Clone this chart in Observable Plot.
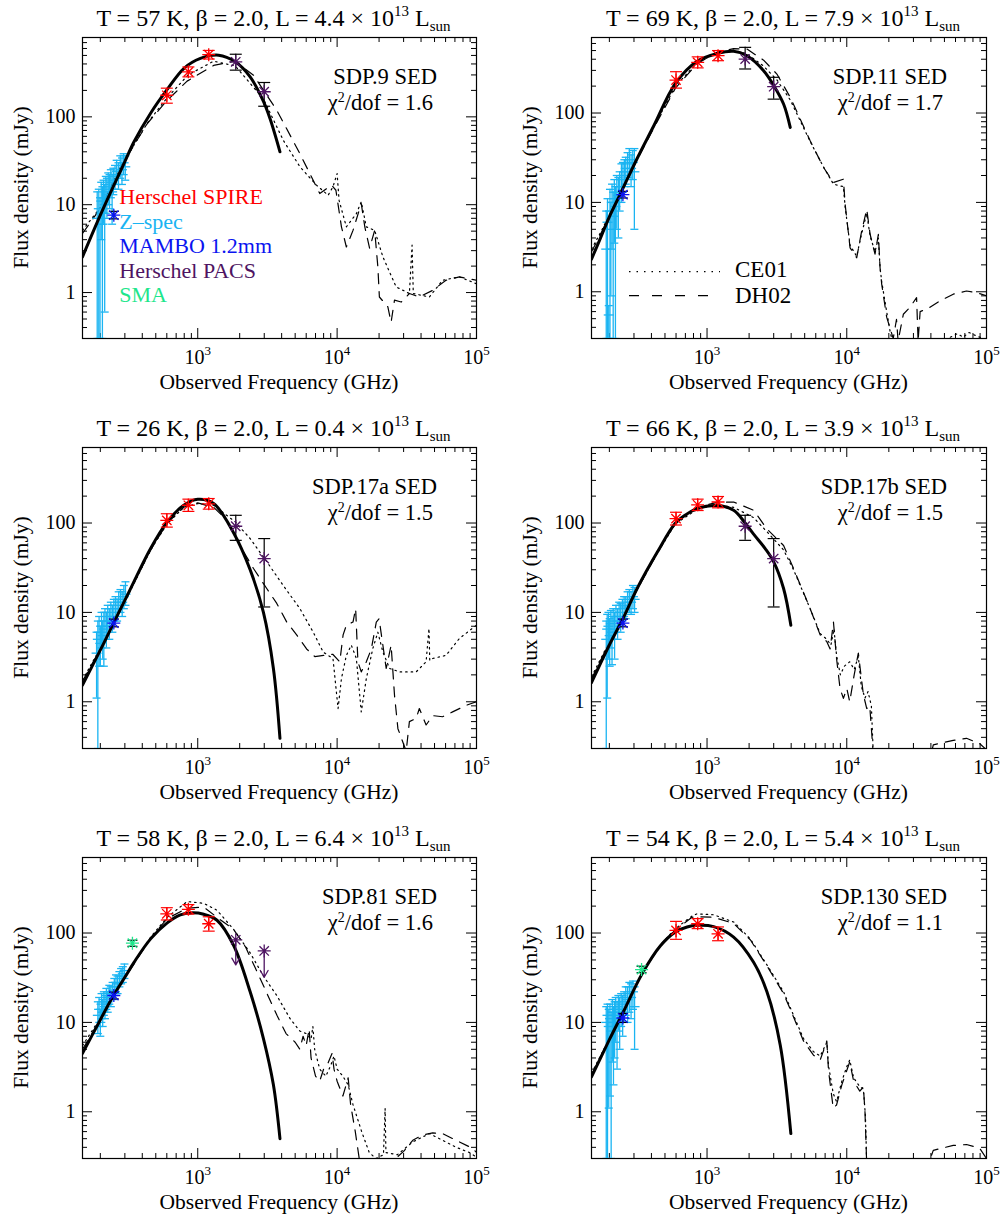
<!DOCTYPE html>
<html><head><meta charset="utf-8">
<script src="https://cdn.jsdelivr.net/npm/d3@7"></script>
<script src="https://cdn.jsdelivr.net/npm/@observablehq/plot@0.6"></script>
<style>
html,body{margin:0;padding:0;background:#fff;}
body{width:1003px;height:1215px;position:relative;overflow:hidden;font-family:"Liberation Serif","Times New Roman",serif;}
.panel{position:absolute;}
#overlay{position:absolute;left:0;top:0;pointer-events:none;}
</style></head><body>
<script>
// ---------------- colours ----------------
const RED = "#FF0000", CYAN = "#1AB4F2", BLUE = "#0A14F0", PURPLE = "#4E1462", GREEN = "#1EE68C";

// ---------------- tick values ----------------
const majorX = [1e3, 1e4, 1e5];
const minorX = [200,300,400,500,600,700,800,900,2000,3000,4000,5000,6000,7000,8000,9000,20000,30000,40000,50000,60000,70000,80000,90000];
const majorY = [1, 10, 100];
const minorY = [0.4,0.5,0.6,0.7,0.8,0.9,2,3,4,5,6,7,8,9,20,30,40,50,60,70,80,90,200,300,400,500,600,700];

// ---------------- panel labels ----------------
const panelNames = ["SDP.9","SDP.11","SDP.17a","SDP.17b","SDP.81","SDP.130"];
const panelT = [57, 69, 26, 66, 58, 54];
const panelL = ["4.4","7.9","0.4","3.9","6.4","5.4"];
const panelChi = ["1.6","1.7","1.5","1.5","1.6","1.1"];
const panelYmax = [800, 700, 700, 700, 700, 700];

// ---------------- SDP.9 ----------------
const sdp9_fit = [[149,2.55],[200,7.6],[250,16.6],[300,31],[349,52],[459,110],[604,205],[794,355],[1045,462],[1412,503],[1858,423],[2377,285],[2960,150],[3304,95],[3890,40]];
const sdp9_ce01 = [[149,5.1],[202,9.5],[280,27],[435,85],[594,160],[853,300],[1300,430],[1858,380],[2960,160],[4110,54],[5410,27],[7110,16.7],[8620,12.8],[9340,16],[10000,22.6],[10330,11.2],[11650,5.6],[13740,7.9],[14900,10.8],[16200,5.6],[18600,5.1],[21300,2.55],[26500,1.16],[33000,0.975],[34500,3.46],[35200,0.975],[45900,0.89],[57100,1.38],[75300,1.51],[100000,1.26]];
const sdp9_dh02 = [[149,4.7],[202,9.3],[280,27],[435,84],[594,150],[839,255],[1300,385],[1858,430],[2512,298],[3690,119],[5410,38],[7510,13.4],[9120,16.7],[9800,14.6],[10740,5.6],[11650,3.3],[13000,5.1],[14900,10.3],[15800,5.6],[17100,3.2],[18600,5.1],[19600,1.96],[20100,0.89],[23100,0.69],[24400,0.46],[25800,0.82],[28800,0.78],[33000,0.975],[38900,0.89],[48500,1.06],[60400,1.38],[75300,1.51],[100000,1.38]];
const sdp9_zspec = [[190,7,0.3,14],[195,9,0.3,15],[199,6,0.3,12],[203,11,4,18],[207,8,0.3,16],[211,12,6,19],[215,10,0.6,17],[219,14,8,21],[223,13,7,20],[228,16,10,23],[233,15,9,22],[238,18,12,25],[243,14,6,22],[248,19,13,26],[255,21,15,28],[262,24,17,32],[270,22,15,30],[278,28,20,36],[286,25,17,34],[294,30,22,38],[302,27,19,36]];
const sdp9_spire = [[600,176,143,212],[857,325,285,370],[1199,510,455,570]];
const sdp9_pacs = [[1874,423,340,516],[2998,193,132,246]];
const sdp9_mambo = [[250,7.6,6.9,8.4]];

// ---------------- SDP.11 ----------------
const sdp11_fit = [[149,2.32],[173,4.0],[200,6.9],[240,12.5],[316,31],[416,72],[594,215],[849,380],[1179,462],[1550,490],[1930,438],[2540,298],[2993,205],[3530,126],[3940,69]];
const sdp11_ce01 = [[149,3.0],[173,4.6],[240,12.8],[316,31],[416,70],[594,200],[849,365],[1179,470],[1550,505],[1930,460],[2540,335],[3162,235],[3940,140],[5470,48],[6810,25],[8030,16],[9460,15],[9730,9],[10560,3.3],[11780,2.5],[12790,4.5],[13900,7.5],[14690,4.2],[15930,2.8],[16830,4.0],[17300,1.9],[17780,1.3],[19300,0.6],[20500,0.35],[21500,0.25],[48000,0.25],[55000,0.31],[62000,0.34],[68000,0.31],[75000,0.35],[85000,0.32],[100000,0.29]];
const sdp11_dh02 = [[149,2.8],[173,4.4],[240,12.6],[316,30],[416,68],[594,190],[849,355],[1179,480],[1550,525],[1930,520],[2540,390],[3162,273],[3940,150],[5470,49],[6810,24.7],[8030,16.7],[9460,18.2],[9730,9.6],[10560,3.1],[11780,2.4],[12790,4.8],[13900,8.4],[14690,4.4],[15930,2.64],[16830,4.4],[17300,1.87],[17780,1.22],[19300,0.52],[21500,0.3],[22700,0.49],[23300,0.28],[25400,0.56],[28300,0.67],[31600,0.86],[32400,0.28],[33500,0.6],[39400,0.67],[46400,0.79],[57800,0.94],[71900,1.02],[84800,0.98],[100000,0.9]];
const sdp11_zspec = [[190,3,0.3,8],[194,6,0.3,11],[198,0.55,0.3,0.7],[202,8,0.3,14],[205,5,0.9,10],[209,10,3,16],[213,7,0.3,13],[217,11,3.5,18],[221,9,0.3,15],[226,13,5,20],[232,12,4,19],[237,15,8,22],[244,18,10,27],[250,20,13,28],[256,22,15,30],[262,24,16,32],[270,27,19,36],[278,30,22,40],[286,24,15,34],[294,28,18,38],[302,22,5,40]];
const sdp11_spire = [[600,234,190,290],[857,369,320,425],[1199,438,385,500]];
const sdp11_pacs = [[1874,402,311,543],[2998,197,143,251]];
const sdp11_mambo = [[250,12.2,11.2,13.3]];

// ---------------- SDP.17a ----------------
const sdp17a_fit = [[149,1.54],[202,3.9],[251,7.8],[313,15.6],[459,52],[604,103],[794,158],[1000,184],[1300,165],[1807,78],[2377,30],[2960,10],[3490,2.36],[3890,0.39]];
const sdp17a_ce01 = [[149,1.75],[202,4.1],[251,7.7],[313,15],[459,50],[604,98],[794,150],[1000,165],[1300,158],[1858,103],[2377,67],[3126,37],[4110,20],[5410,11],[6740,6],[7940,3.6],[9340,3.05],[10160,0.84],[10740,1.82],[11650,3.3],[12640,4.3],[13740,3.05],[14900,0.77],[16200,1.82],[18000,3.9],[19600,6],[21300,3.6],[23800,2.36],[28000,2.16],[36900,2.16],[43500,2.8],[45600,6.6],[46200,2.9],[48500,3.05],[60400,3.3],[75300,5.1],[100000,7.2]];
const sdp17a_dh02 = [[149,1.7],[202,4.0],[251,7.7],[313,15.3],[459,50],[604,100],[794,150],[1000,168],[1300,150],[1600,110],[2020,55],[2512,31],[3126,18.5],[3690,12.6],[4350,7.8],[5125,5.6],[6040,3.9],[6920,3.2],[8000,3.3],[9300,3.4],[10450,2.8],[11040,5.6],[11650,7.2],[13000,7.8],[13580,11],[14100,2.8],[14900,2.16],[16200,2.8],[17600,3.9],[19100,7.8],[20000,8.5],[22500,2.36],[24400,4.3],[25800,1.19],[27300,0.5],[31300,0.28],[33000,0.6],[36900,0.65],[38900,0.84],[43500,0.55],[48500,0.7],[57100,0.68],[67400,0.77],[83900,0.91],[100000,1.0]];
const sdp17a_zspec = [[188,3.5,1.1,6],[192,5,0.3,8],[196,6,2.5,9],[200,4.5,2.5,7],[204,7,4,10],[208,5.5,3,8],[212,6.5,2.5,10],[216,8,5,11],[221,7,4,10],[226,9,6,12],[232,8,5,11],[238,10,7,13],[244,9,6,12],[250,11,8,14],[257,12,9,15],[264,11,8,14],[271,13,10,17],[279,14,10,18],[287,13,9,17],[295,15,11,20],[303,16,12,22]];
const sdp17a_spire = [[600,107,90,127],[857,158,135,185],[1199,164,143,188]];
const sdp17a_pacs = [[1874,92,64,122],[2998,40,11.5,67]];
const sdp17a_mambo = [[250,7.6,6.9,8.4]];

// ---------------- SDP.17b ----------------
const sdp17b_fit = [[149,1.64],[204,4.6],[250,8.5],[316,18.5],[440,47],[594,100],[700,123],[849,145],[1179,157],[1550,139],[1874,100],[2154,75],[2600,52],[2993,37],[3530,18.5],[3980,7.2]];
const sdp17b_ce01 = [[149,1.9],[204,5.0],[250,8.6],[316,18],[440,46],[594,98],[849,142],[1179,160],[1550,150],[2154,115],[2683,80],[3530,50],[4160,30],[5470,11],[6450,5.8],[7200,5],[7700,4.3],[8100,6.5],[8450,3.3],[9000,2],[9600,2.5],[10500,2.8],[11300,2.3],[12100,3.2],[12700,1.5],[13500,1.1],[14200,1.3],[15000,0.9],[15500,0.25]];
const sdp17b_dh02 = [[149,1.8],[204,4.9],[250,8.5],[316,18],[440,46],[594,100],[849,150],[1179,170],[1550,172],[2154,139],[2683,86],[3530,56],[4160,31],[5470,11],[6450,5.6],[7200,4.7],[7600,3.9],[8030,7.8],[8450,3.05],[8950,1.41],[9460,1.09],[10000,1.41],[10500,1.0],[11300,2.0],[12100,3.5],[13150,1.2],[13900,0.84],[14600,0.9],[15500,0.25],[40000,0.25],[41600,0.33],[57800,0.37],[71900,0.39],[89500,0.34],[100000,0.29]];
const sdp17b_zspec = [[190,5,0.3,8],[193,6.5,1.1,9.5],[197,7,3,10],[201,5.5,2.5,8.5],[205,7.5,4,10.5],[209,6,2.6,9],[213,8,5,11],[218,6.5,3,10],[223,9,6,12],[229,8,5,11],[235,10,7,13],[241,9,6,12.5],[248,11,8,14],[255,12,9,15],[262,11.5,8.5,15],[270,13,10,17],[278,14,10,18],[286,13,9.5,17],[295,15,11,20],[303,14,10,19]];
const sdp17b_spire = [[600,112,95,132],[857,160,138,185],[1199,172,148,198]];
const sdp17b_pacs = [[1874,92,64,122],[2998,40,11.5,67]];
const sdp17b_mambo = [[250,7.6,6.9,8.4]];

// ---------------- SDP.81 ----------------
const sdp81_fit = [[149,4.5],[202,11],[244,19],[300,32],[349,47],[459,86],[604,130],[750,160],[900,168],[1104,162],[1375,139],[1807,73],[2377,22],[2960,6.6],[3490,2],[3890,0.5]];
const sdp81_ce01 = [[149,5.5],[202,11.5],[244,20],[349,46],[459,90],[604,150],[839,225],[1104,215],[1375,180],[1807,110],[2377,60],[2960,33],[3690,20],[4600,11],[5400,8],[6000,7.5],[6500,6.5],[6700,9],[6900,5],[7500,3],[8300,2.5],[9000,3.3],[9500,4.2],[10000,3],[11000,2.5],[12000,2],[13000,1.2],[15000,0.6],[17000,0.35],[19000,0.3],[21500,0.33],[22100,1.09],[22400,0.35],[27000,0.33],[34900,0.46],[45900,0.57],[57100,0.48],[71500,0.4],[89000,0.35],[100000,0.31]];
const sdp81_dh02 = [[149,5],[202,11],[244,19.5],[349,45],[459,88],[604,145],[839,190],[1104,195],[1375,150],[1807,110],[2200,70],[2600,40],[3100,22],[3700,12],[4300,7.5],[5000,6],[5400,5],[5700,7],[6000,5.5],[6300,8.5],[6500,4],[7000,2.5],[7500,2.2],[8000,3],[8600,3.5],[9200,4.5],[9500,3],[10000,2.2],[11000,1.5],[12000,2.4],[12500,1.2],[13500,0.6],[14500,0.28],[25000,0.28],[30000,0.36],[34900,0.48],[41100,0.55],[48500,0.58],[57100,0.57],[75300,0.46],[93800,0.39],[100000,0.35]];
const sdp81_zspec = [[192,12,7.5,17],[196,14,9,19],[200,10,7,14],[204,16,11,21],[208,13,9,18],[212,17,12,22],[216,15,11,20],[221,19,14,24],[226,17,13,22],[232,21,16,26],[238,20,15,25],[245,23,18,28],[252,25,20,31],[259,28,22,34],[266,27,21,33],[274,31,25,37],[282,33,27,40],[290,35,28,42],[298,38,31,45]];
const sdp81_spire = [[600,164,140,192],[857,184,163,208],[1199,127,105,152]];
const sdp81_pacsLimits = [[1874,84,44],[2998,63,32]];
const sdp81_sma = [[340,77,71,83]];
const sdp81_mambo = [[250,20,18.3,21.8]];

// ---------------- SDP.130 ----------------
const sdp130_fit = [[149,2.46],[200,6.4],[251,13],[343,35],[464,72],[594,103],[720,117],[849,122],[1116,118],[1550,90],[2154,47],[2683,22],[3340,5.6],[3980,0.57]];
const sdp130_ce01 = [[149,2.7],[200,6.6],[251,13],[343,36],[464,74],[594,112],[781,155],[849,164],[1116,160],[1550,133],[2040,86],[2683,44],[3530,22],[4160,12],[4900,6.6],[5780,4.7],[6450,4.2],[6810,5],[7200,6],[7400,3.3],[8000,1.6],[8450,1.3],[9220,2.2],[10000,3.2],[10500,3.8],[11200,2.4],[12400,1.9],[13150,1.8],[13600,0.9],[13900,0.25]];
const sdp130_dh02 = [[149,2.6],[200,6.5],[251,13],[343,35.5],[464,72],[594,108],[781,150],[849,152],[1116,150],[1550,128],[2040,84],[2683,43],[3530,21],[4160,11.5],[4900,6.2],[5780,4.3],[6450,3.8],[6810,4.8],[7200,6.2],[7400,2.9],[8000,1.1],[8450,1.19],[9220,2.0],[10000,2.9],[10500,3.6],[11200,2.2],[12400,1.7],[13150,1.9],[13500,1.0],[13900,0.25],[38000,0.25],[41600,0.37],[57800,0.42],[71900,0.43],[89500,0.39],[100000,0.3]];
const sdp130_zspec = [[190,10,0.3,15],[194,12,0.3,16],[198,9,1.1,14],[202,11,1.5,16],[206,8,0.3,13],[210,13,3.6,18],[214,10,2,15],[218,12,4,17],[222,14,6,19],[227,11,3,17],[232,15,8,20],[237,13,5,19],[243,16,9,21],[249,14,7,20],[255,17,10,22],[262,19,12,25],[270,18,10,25],[278,21,13,28],[286,19,11,27],[295,22,14,29],[303,15,5,25]];
const sdp130_spire = [[600,107,85,135],[857,127,112,145],[1199,98,82,117]];
const sdp130_sma = [[340,39,36,42.5]];
const sdp130_mambo = [[250,11.2,10,12.6]];

// ---------------- assemble ----------------
const panels = [
  {fit: sdp9_fit, ce: sdp9_ce01, dh: sdp9_dh02, zs: sdp9_zspec, spire: sdp9_spire, pacs: sdp9_pacs, lim: [], sma: [], mambo: sdp9_mambo},
  {fit: sdp11_fit, ce: sdp11_ce01, dh: sdp11_dh02, zs: sdp11_zspec, spire: sdp11_spire, pacs: sdp11_pacs, lim: [], sma: [], mambo: sdp11_mambo},
  {fit: sdp17a_fit, ce: sdp17a_ce01, dh: sdp17a_dh02, zs: sdp17a_zspec, spire: sdp17a_spire, pacs: sdp17a_pacs, lim: [], sma: [], mambo: sdp17a_mambo},
  {fit: sdp17b_fit, ce: sdp17b_ce01, dh: sdp17b_dh02, zs: sdp17b_zspec, spire: sdp17b_spire, pacs: sdp17b_pacs, lim: [], sma: [], mambo: sdp17b_mambo},
  {fit: sdp81_fit, ce: sdp81_ce01, dh: sdp81_dh02, zs: sdp81_zspec, spire: sdp81_spire, pacs: [], lim: sdp81_pacsLimits, sma: sdp81_sma, mambo: sdp81_mambo},
  {fit: sdp130_fit, ce: sdp130_ce01, dh: sdp130_dh02, zs: sdp130_zspec, spire: sdp130_spire, pacs: [], lim: [], sma: sdp130_sma, mambo: sdp130_mambo}
];

// custom symbols
const hbar = {draw(ctx, size) { const r = Math.sqrt(size / Math.PI); ctx.moveTo(-r, 0); ctx.lineTo(r, 0); }};
const star8 = {draw(ctx, size) {
  const r = Math.sqrt(size / Math.PI), d = r * 0.72;
  ctx.moveTo(0, -r); ctx.lineTo(0, r); ctx.moveTo(-r, 0); ctx.lineTo(r, 0);
  ctx.moveTo(-d, -d); ctx.lineTo(d, d); ctx.moveTo(-d, d); ctx.lineTo(d, -d);
}};

const fx = d => d[0], fy = d => d[1];

function errMarks(data, barColor, capR) {
  return [
    Plot.ruleX(data, {x: fx, y1: d => d[2], y2: d => d[3], stroke: barColor, strokeWidth: 1.2, clip: true}),
    Plot.dot(data, {x: fx, y: d => d[2], symbol: hbar, r: capR, stroke: barColor, fill: "none", strokeWidth: 1.2, clip: true}),
    Plot.dot(data, {x: fx, y: d => d[3], symbol: hbar, r: capR, stroke: barColor, fill: "none", strokeWidth: 1.2, clip: true})
  ];
}

const FL = [82, 91], FR = [476, 486], W = [500, 503];
const H = 400, MT = 37, MB = 62;

const overlay = [];

panels.forEach((p, i) => {
  const col = i % 2, row = Math.floor(i / 2);
  const ox = col * 500, oy = row * 410;
  const iw = FR[col] - FL[col], ih = H - MT - MB;
  const ymax = panelYmax[i];
  const yMinor = minorY.filter(v => v < ymax);

  const marks = [
    Plot.frame({stroke: "black", strokeWidth: 1.2}),
    Plot.tickX(minorX, {x: d => d, insetTop: ih - 5, strokeWidth: 1}),
    Plot.tickX(minorX, {x: d => d, insetBottom: ih - 5, strokeWidth: 1}),
    Plot.tickX(majorX, {x: d => d, insetTop: ih - 10, strokeWidth: 1}),
    Plot.tickX(majorX, {x: d => d, insetBottom: ih - 10, strokeWidth: 1}),
    Plot.tickY(yMinor, {y: d => d, insetRight: iw - 5, strokeWidth: 1}),
    Plot.tickY(yMinor, {y: d => d, insetLeft: iw - 5, strokeWidth: 1}),
    Plot.tickY(majorY, {y: d => d, insetRight: iw - 10, strokeWidth: 1}),
    Plot.tickY(majorY, {y: d => d, insetLeft: iw - 10, strokeWidth: 1}),
    Plot.axisX({ticks: majorX, tickSize: 0, tickPadding: 11.5, fontSize: 20, label: null, tickFormat: d => "10^" + Math.round(Math.log10(d))}),
    Plot.axisY({ticks: majorY, tickSize: 0, tickPadding: 7, fontSize: 20, label: null, tickFormat: d => String(d)}),
    // models
    Plot.line(p.ce, {x: fx, y: fy, stroke: "black", strokeWidth: 1.2, strokeDasharray: "1.5,4", clip: true}),
    Plot.line(p.dh, {x: fx, y: fy, stroke: "black", strokeWidth: 1.2, strokeDasharray: "10,8", clip: true}),
    // Z-spec
    Plot.ruleX(p.zs, {x: fx, y1: d => d[2], y2: d => d[3], stroke: CYAN, strokeWidth: 1.3, clip: true}),
    Plot.dot(p.zs, {x: fx, y: d => d[2], symbol: hbar, r: 4, stroke: CYAN, fill: "none", strokeWidth: 1.3, clip: true}),
    Plot.dot(p.zs, {x: fx, y: d => d[3], symbol: hbar, r: 4, stroke: CYAN, fill: "none", strokeWidth: 1.3, clip: true}),
    Plot.dot(p.zs, {x: fx, y: fy, symbol: hbar, r: 5, stroke: CYAN, fill: "none", strokeWidth: 1.3, clip: true}),
    // fit
    Plot.line(p.fit, {x: fx, y: fy, stroke: "black", strokeWidth: 3, curve: "catmull-rom", clip: true}),
    // SPIRE
    ...errMarks(p.spire, RED, 6),
    Plot.dot(p.spire, {x: fx, y: fy, symbol: star8, r: 6.5, stroke: RED, fill: "none", strokeWidth: 1.3}),
    // PACS
    ...errMarks(p.pacs, "black", 6),
    Plot.dot(p.pacs, {x: fx, y: fy, symbol: star8, r: 6.5, stroke: PURPLE, fill: "none", strokeWidth: 1.3}),
    Plot.arrow(p.lim, {x1: fx, y1: fy, x2: fx, y2: d => d[2], stroke: PURPLE, strokeWidth: 1.3, headLength: 9}),
    Plot.dot(p.lim, {x: fx, y: fy, symbol: star8, r: 6.5, stroke: PURPLE, fill: "none", strokeWidth: 1.3}),
    // SMA
    ...errMarks(p.sma, "black", 5),
    Plot.dot(p.sma, {x: fx, y: fy, symbol: star8, r: 6.5, stroke: GREEN, fill: "none", strokeWidth: 1.3}),
    // MAMBO
    ...errMarks(p.mambo, "black", 5),
    Plot.dot(p.mambo, {x: fx, y: fy, symbol: star8, r: 6.5, stroke: BLUE, fill: "none", strokeWidth: 1.3})
  ];

  const svg = Plot.plot({
    width: W[col], height: H,
    marginLeft: FL[col], marginRight: W[col] - FR[col], marginTop: MT, marginBottom: MB,
    x: {type: "log", domain: [149, 1e5]},
    y: {type: "log", domain: [0.3, ymax]},
    style: {fontFamily: "'Liberation Serif', 'Times New Roman', serif", fontSize: "20px", color: "black", background: "transparent", overflow: "visible"},
    marks
  });
  svg.querySelectorAll('[aria-label="x-axis tick label"] text').forEach(t => {
    const parts = t.textContent.split("^");
    if (parts.length === 2) {
      t.textContent = parts[0];
      const ts = document.createElementNS("http://www.w3.org/2000/svg", "tspan");
      ts.setAttribute("dy", "-9");
      ts.setAttribute("font-size", "13");
      ts.textContent = parts[1];
      t.appendChild(ts);
    }
  });
  const div = document.createElement("div");
  div.className = "panel";
  div.style.left = ox + "px";
  div.style.top = oy + "px";
  div.appendChild(svg);
  document.body.appendChild(div);

  // text overlay for this panel
  const fl = ox + FL[col], fr = ox + FR[col], ft = oy + MT;
  const cx = (fl + fr) / 2;
  overlay.push(`<text x="${cx - 5.5}" y="${oy + 26}" font-size="24" text-anchor="middle">T = ${panelT[i]} K, β = 2.0, L = ${panelL[i]} × 10<tspan dy="-10" font-size="15">13</tspan><tspan dy="10"> L</tspan><tspan dy="5" font-size="15">sun</tspan></text>`);
  overlay.push(`<text x="${cx}" y="${oy + 388.5}" font-size="21.5" text-anchor="middle">Observed Frequency (GHz)</text>`);
  overlay.push(`<text transform="translate(${fl - 54.5},${oy + 187.5}) rotate(-90)" font-size="21.5" text-anchor="middle">Flux density (mJy)</text>`);
  overlay.push(`<text x="${fr - 39}" y="${ft + 47}" font-size="22.5" text-anchor="end">${panelNames[i]} SED</text>`);
  overlay.push(`<text x="${fr - 43}" y="${ft + 72.8}" font-size="22.5" text-anchor="end">χ<tspan dy="-8" font-size="14">2</tspan><tspan dy="8">/dof = ${panelChi[i]}</tspan></text>`);
});

// legends
const legendNames = ["Herschel SPIRE", "Z–spec", "MAMBO 1.2mm", "Herschel PACS", "SMA"];
const legendColors = [RED, CYAN, BLUE, PURPLE, GREEN];
legendNames.forEach((n, k) => {
  overlay.push(`<text x="119.3" y="${204 + k * 24.6}" font-size="22" fill="${legendColors[k]}">${n}</text>`);
});
const modelNames = ["CE01", "DH02"];
overlay.push(`<line x1="629" x2="720" y1="271.7" y2="271.7" stroke="black" stroke-width="1.2" stroke-dasharray="1.5,6"/>`);
overlay.push(`<line x1="629" x2="710" y1="295.7" y2="295.7" stroke="black" stroke-width="1.2" stroke-dasharray="10,13"/>`);
overlay.push(`<text x="735" y="276.7" font-size="23">${modelNames[0]}</text>`);
overlay.push(`<text x="735" y="302.7" font-size="23">${modelNames[1]}</text>`);

const ov = document.createElementNS("http://www.w3.org/2000/svg", "svg");
ov.setAttribute("id", "overlay");
ov.setAttribute("width", "1003");
ov.setAttribute("height", "1215");
ov.setAttribute("font-family", "'Liberation Serif', 'Times New Roman', serif");
ov.innerHTML = overlay.join("\n");
document.body.appendChild(ov);
</script>
</body></html>
